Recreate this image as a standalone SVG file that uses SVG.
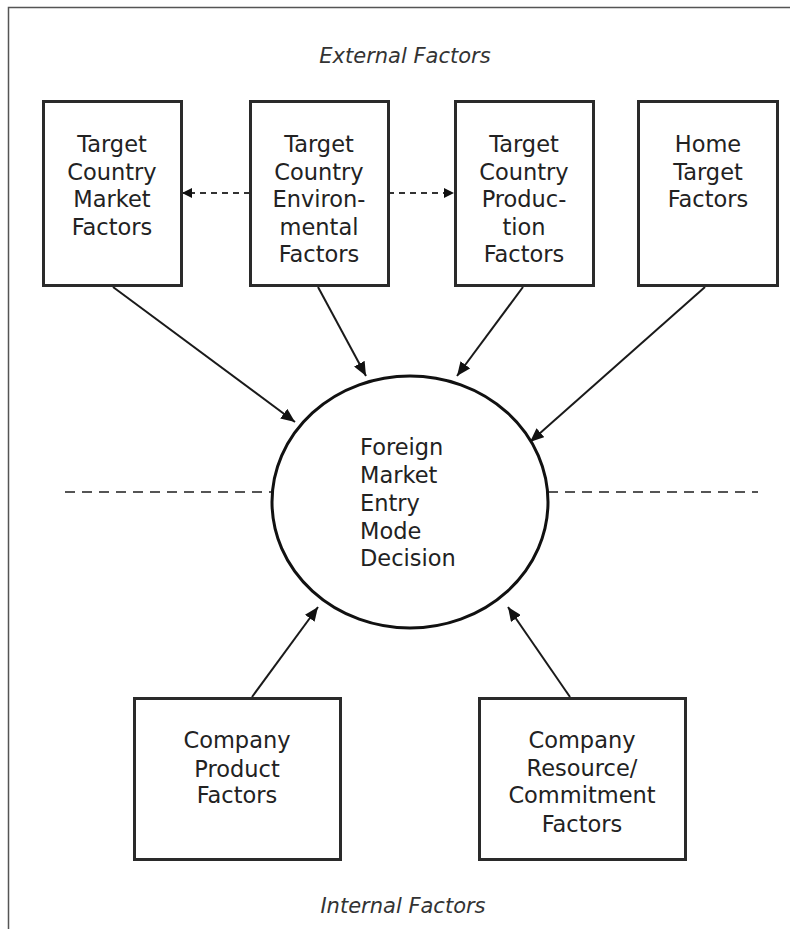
<svg xmlns="http://www.w3.org/2000/svg" width="790" height="929" viewBox="0 0 790 929">
  <defs>
    <style>
      .box { fill: #fff; stroke: #2a2a2a; stroke-width: 3; }
      .lbl { font-family: "DejaVu Sans", Verdana, sans-serif; font-size: 22.5px; fill: #222; text-anchor: middle; }
      .lblL { font-family: "DejaVu Sans", Verdana, sans-serif; font-size: 22.5px; fill: #222; }
      .cap { font-family: "DejaVu Sans", Verdana, sans-serif; font-size: 21px; font-style: italic; fill: #333; text-anchor: middle; }
      .link { stroke: #1a1a1a; stroke-width: 2; fill: none; }
      .dlink { stroke: #333; stroke-width: 2; fill: none; stroke-dasharray: 6 5; }
      .divider { stroke: #555; stroke-width: 2; fill: none; stroke-dasharray: 10 7; }
      .frame { stroke: #555; stroke-width: 1.5; fill: none; }
    </style>
    <marker id="arr" markerWidth="14" markerHeight="12" refX="14" refY="6" orient="auto" markerUnits="userSpaceOnUse">
      <path d="M0,0 L14,6 L0,12 Z" fill="#111"/>
    </marker>
    <marker id="arrS" markerWidth="10" markerHeight="10" refX="10" refY="5" orient="auto" markerUnits="userSpaceOnUse">
      <path d="M0,0 L10,5 L0,10 Z" fill="#111"/>
    </marker>
  </defs>

  <rect width="790" height="929" fill="#fff"/>
  <!-- page frame: top and left rules -->
  <path class="frame" d="M8.5,929 L8.5,7.5 L790,7.5"/>

  <!-- section captions -->
  <text class="cap" x="405" y="63">External Factors</text>
  <text class="cap" x="403" y="913">Internal Factors</text>

  <!-- divider between external and internal factors -->
  <g id="divider">
    <line class="divider" x1="65" y1="492" x2="272" y2="492"/>
    <line class="divider" x1="548" y1="492" x2="758" y2="492"/>
  </g>

  <!-- connectors -->
  <g id="connectors">
    <line class="dlink" x1="250" y1="193" x2="182" y2="193" marker-end="url(#arrS)"/>
    <line class="dlink" x1="388" y1="193" x2="454" y2="193" marker-end="url(#arrS)"/>
    <line class="link" x1="113" y1="287" x2="295" y2="422" marker-end="url(#arr)"/>
    <line class="link" x1="318" y1="287" x2="366" y2="376" marker-end="url(#arr)"/>
    <line class="link" x1="523" y1="287" x2="457" y2="376" marker-end="url(#arr)"/>
    <line class="link" x1="705" y1="287" x2="530" y2="442" marker-end="url(#arr)"/>
    <line class="link" x1="252" y1="697" x2="318" y2="607" marker-end="url(#arr)"/>
    <line class="link" x1="570" y1="697" x2="508" y2="607" marker-end="url(#arr)"/>
  </g>

  <g id="market">
    <rect class="box" x="43.5" y="101.5" width="138" height="184"/>
    <text class="lbl" x="112" y="152">Target</text>
    <text class="lbl" x="112" y="180">Country</text>
    <text class="lbl" x="112" y="207">Market</text>
    <text class="lbl" x="112" y="235">Factors</text>
  </g>

  <g id="environmental">
    <rect class="box" x="250.5" y="101.5" width="138" height="184"/>
    <text class="lbl" x="319" y="152">Target</text>
    <text class="lbl" x="319" y="180">Country</text>
    <text class="lbl" x="319" y="207">Environ-</text>
    <text class="lbl" x="319" y="235">mental</text>
    <text class="lbl" x="319" y="262">Factors</text>
  </g>

  <g id="production">
    <rect class="box" x="455.5" y="101.5" width="138" height="184"/>
    <text class="lbl" x="524" y="152">Target</text>
    <text class="lbl" x="524" y="180">Country</text>
    <text class="lbl" x="524" y="207">Produc-</text>
    <text class="lbl" x="524" y="235">tion</text>
    <text class="lbl" x="524" y="262">Factors</text>
  </g>

  <g id="home">
    <rect class="box" x="638.5" y="101.5" width="139" height="184"/>
    <text class="lbl" x="708" y="152">Home</text>
    <text class="lbl" x="708" y="180">Target</text>
    <text class="lbl" x="708" y="207">Factors</text>
  </g>

  <g id="decision">
    <ellipse cx="410" cy="502" rx="138" ry="126" fill="#fff" stroke="#111" stroke-width="3"/>
    <text class="lblL" x="360" y="455">Foreign</text>
    <text class="lblL" x="360" y="483">Market</text>
    <text class="lblL" x="360" y="511">Entry</text>
    <text class="lblL" x="360" y="539">Mode</text>
    <text class="lblL" x="360" y="566">Decision</text>
  </g>

  <g id="product">
    <rect class="box" x="134.5" y="698.5" width="206" height="161"/>
    <text class="lbl" x="237" y="748">Company</text>
    <text class="lbl" x="237" y="777">Product</text>
    <text class="lbl" x="237" y="803">Factors</text>
  </g>

  <g id="resources">
    <rect class="box" x="479.5" y="698.5" width="206" height="161"/>
    <text class="lbl" x="582" y="748">Company</text>
    <text class="lbl" x="582" y="776">Resource/</text>
    <text class="lbl" x="582" y="803">Commitment</text>
    <text class="lbl" x="582" y="832">Factors</text>
  </g>
</svg>
